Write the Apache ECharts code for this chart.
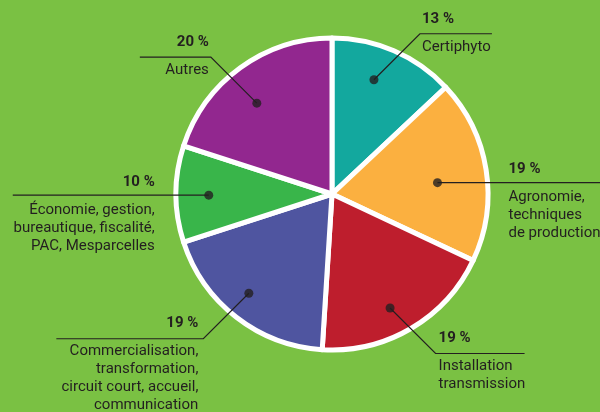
<!DOCTYPE html>
<html>
<head>
<meta charset="utf-8">
<script src="https://cdn.jsdelivr.net/npm/echarts@6/dist/echarts.min.js"></script>
<style>
html,body{margin:0;padding:0;background:#7ac143;}
#c{width:600px;height:412px;}
</style>
</head>
<body>
<div id="c"></div>
<script>
// ---- data ----
const categories = ['Certiphyto', 'Agronomie, techniques de production', 'Installation transmission',
  'Commercialisation, transformation, circuit court, accueil, communication',
  'Économie, gestion, bureautique, fiscalité, PAC, Mesparcelles', 'Autres'];
const labelLines = [
  ['Certiphyto'],
  ['Agronomie,', 'techniques', 'de production'],
  ['Installation', 'transmission'],
  ['Commercialisation,', 'transformation,', 'circuit court, accueil,', 'communication'],
  ['Économie, gestion,', 'bureautique, fiscalité,', 'PAC, Mesparcelles'],
  ['Autres']
];
const values = [13, 19, 19, 19, 10, 20];
const colors = ['#13a89e', '#fbb040', '#be1e2d', '#4f55a0', '#39b54a', '#92278f'];

// ---- layout (not data) ----
const CX = 332, CY = 194, R = 156;
const dotR = [0.78, 0.68, 0.82, 0.83, 0.79, 0.756];
const dotShift = [-0.9, 0.8, 1.0, 0.6, -0.15, -1.0]; // small angular nudges (percent units)
// direction, diagonal length, text offset, horizontal length
const leader = [
  {dx: 1, dy: -1, d: 46, tx: 2, h: 72},
  {dx: 1, dy: 0, d: 0, tx: 71, h: 170},
  {dx: 1, dy: 1, d: 45.5, tx: 3, h: 89},
  {dx: -1, dy: 1, d: 45.5, tx: 5, h: 147},
  {dx: -1, dy: 0, d: 0, tx: 54, h: 196},
  {dx: -1, dy: -1, d: 46, tx: 2, h: 71}
];

const total = values.reduce((a, b) => a + b, 0);
const mids = [];
let acc = 0;
values.forEach((v, i) => { mids.push((acc + v / 2) / total * 100 + dotShift[i]); acc += v; });

function dotPos(i) {
  const a = (90 - mids[i] * 3.6) * Math.PI / 180;
  const r = R * dotR[i];
  return [CX + r * Math.cos(a), CY - r * Math.sin(a)];
}

const chart = echarts.init(document.getElementById('c'));
const FONT = 'Roboto';
const TXT = '#231f20';
const pieBase = {
  type: 'pie',
  center: [CX, CY],
  radius: [0, R],
  startAngle: 90,
  clockwise: true,
  silent: true,
  avoidLabelOverlap: false
};
chart.setOption({
  backgroundColor: '#7ac143',
  animation: false,
  polar: {center: [CX, CY], radius: R},
  angleAxis: {type: 'value', min: 0, max: 100, startAngle: 90, clockwise: true, show: false},
  radiusAxis: {type: 'value', min: 0, max: 1, show: false},
  series: [
    Object.assign({}, pieBase, {
      z: 2,
      itemStyle: {borderColor: '#ffffff', borderWidth: 5},
      label: {show: false},
      labelLine: {show: false},
      data: values.map((v, i) => ({name: categories[i], value: v, itemStyle: {color: colors[i]}}))
    }),
    Object.assign({}, pieBase, {
      z: 4,
      itemStyle: {color: 'rgba(0,0,0,0)', borderWidth: 0},
      data: values.map((v, i) => ({name: categories[i], value: v})),
      label: {
        show: true,
        formatter: function (p) {
          const side = leader[p.dataIndex].dx > 0 ? 'l' : 'r';
          return '{p' + side + '|' + values[p.dataIndex] + ' %}\n' +
            labelLines[p.dataIndex].map(s => '{n' + side + '|' + s + '}').join('\n');
        },
        rich: {
          pl: {fontFamily: FONT, fontWeight: 'bold', fontSize: 15, color: TXT, lineHeight: 38, align: 'left'},
          pr: {fontFamily: FONT, fontWeight: 'bold', fontSize: 15, color: TXT, lineHeight: 38, align: 'right'},
          nl: {fontFamily: FONT, fontSize: 15, color: TXT, lineHeight: 18, align: 'left'},
          nr: {fontFamily: FONT, fontSize: 15, color: TXT, lineHeight: 18, align: 'right'}
        }
      },
      labelLine: {show: true, showAbove: true, lineStyle: {color: TXT, width: 1.2}},
      labelLayout: function (p) {
        const i = p.dataIndex;
        const L = leader[i];
        const dot = dotPos(i);
        const elbow = [dot[0] + L.dx * L.d, dot[1] + L.dy * L.d];
        const end = [elbow[0] + L.dx * L.h, elbow[1]];
        return {
          x: elbow[0] + L.dx * L.tx,
          y: elbow[1] - (L.d > 0 ? 34 : 32),
          align: L.dx > 0 ? 'left' : 'right',
          verticalAlign: 'top',
          labelLinePoints: [dot, elbow, end]
        };
      }
    }),
    {
      type: 'scatter',
      coordinateSystem: 'polar',
      symbol: 'circle',
      symbolSize: 9,
      silent: true,
      z: 6,
      itemStyle: {color: TXT},
      data: values.map((v, i) => [dotR[i], mids[i]])
    }
  ]
});
</script>
</body>
</html>
